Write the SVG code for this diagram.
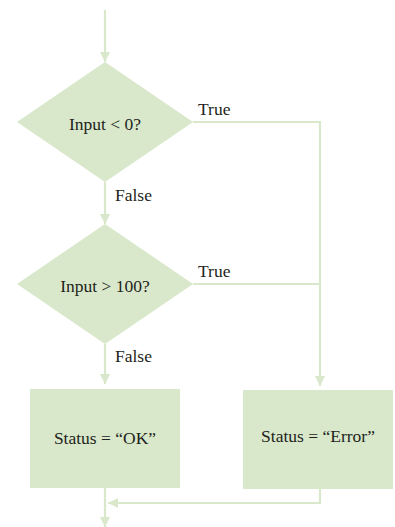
<svg xmlns="http://www.w3.org/2000/svg" width="395" height="527" viewBox="0 0 395 527">
<style>
.shape{fill:#d9e8cb;stroke:none}
.conn{fill:none;stroke:#d9e8cb;stroke-width:2.2}
.t{font-family:"Liberation Serif",serif;font-size:17.5px;fill:#231f20}
.c{text-anchor:middle}
</style>
<defs>
<marker id="ah" viewBox="0 0 10 10" refX="10" refY="5" markerWidth="10" markerHeight="10" markerUnits="userSpaceOnUse" orient="auto">
<path d="M0,0 L10,5 L0,10 Z" fill="#d9e8cb"/>
</marker>
</defs>
<g id="connectors">
<path class="conn" d="M105,10 V62" marker-end="url(#ah)"/>
<path class="conn" d="M193,122 H320 V386" marker-end="url(#ah)"/>
<path class="conn" d="M105,182 V224" marker-end="url(#ah)"/>
<path class="conn" d="M193,284 H320"/>
<path class="conn" d="M105,344 V384" marker-end="url(#ah)"/>
<path class="conn" d="M320,489 V503 H108" marker-end="url(#ah)"/>
<path class="conn" d="M105,488 V527" marker-end="url(#ah)"/>
</g>
<g id="labels">
<text class="t" x="198" y="115">True</text>
<text class="t" x="115" y="201">False</text>
<text class="t" x="198" y="277">True</text>
<text class="t" x="115" y="362">False</text>
</g>
<g id="d1">
<polygon class="shape" points="105,62 193,122 105,182 17,122"/>
<text class="t c" x="105" y="130">Input &lt; 0?</text>
</g>
<g id="d2">
<polygon class="shape" points="105,224 193,284 105,344 17,284"/>
<text class="t c" x="105" y="292">Input &gt; 100?</text>
</g>
<g id="ok">
<rect class="shape" x="30" y="389" width="150" height="99"/>
<text class="t c" x="105" y="444">Status = “OK”</text>
</g>
<g id="err">
<rect class="shape" x="243" y="390" width="150" height="99"/>
<text class="t c" x="318" y="442">Status = “Error”</text>
</g>
</svg>
